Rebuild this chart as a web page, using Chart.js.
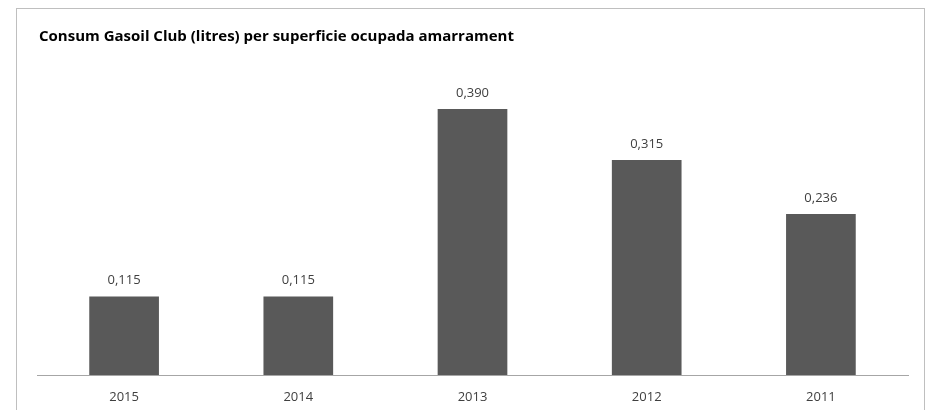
<!DOCTYPE html>
<html>
<head>
<meta charset="utf-8">
<script src="https://cdn.jsdelivr.net/npm/chart.js@4"></script>
<style>
  html, body { margin: 0; padding: 0; background: #ffffff; }
  #wrap { width: 928px; height: 410px; position: relative; }
</style>
</head>
<body>
<div id="wrap"><canvas id="gasoilChart" width="928" height="410"></canvas></div>
<script>
// Chart data
const years = ["2015", "2014", "2013", "2012", "2011"];
const consum = [0.115, 0.115, 0.390, 0.315, 0.236];
const chartTitle = "Consum Gasoil Club (litres) per superficie ocupada amarrament";

// Frame, title and value labels
const decorPlugin = {
  id: "decor",
  beforeDraw(chart) {
    const c = chart.ctx;
    c.save();
    c.fillStyle = "#ffffff";
    c.fillRect(0, 0, chart.width, chart.height);
    c.strokeStyle = "#bfbfbf";
    c.lineWidth = 1;
    c.strokeRect(16.5, 8.5, 908, 420);
    c.restore();
  },
  afterDatasetsDraw(chart) {
    const c = chart.ctx;
    c.save();
    c.font = "bold 15px 'Open Sans'";
    c.fillStyle = "#000000";
    c.textBaseline = "middle";
    c.textAlign = "left";
    c.fillText(chartTitle, 39, 37);

    c.font = "13px 'Open Sans'";
    c.fillStyle = "#404040";
    c.textAlign = "center";
    const meta = chart.getDatasetMeta(0);
    meta.data.forEach((bar, i) => {
      const txt = consum[i].toFixed(3).replace(".", ",");
      c.fillText(txt, bar.x, bar.y - 16);
    });
    c.restore();
  },
};

const ctx = document.getElementById("gasoilChart").getContext("2d");
new Chart(ctx, {
  type: "bar",
  data: {
    labels: years,
    datasets: [
      {
        data: consum,
        backgroundColor: "#595959",
        borderWidth: 0,
        categoryPercentage: 1.0,
        barPercentage: 0.4,
      },
    ],
  },
  options: {
    responsive: false,
    animation: false,
    layout: {
      padding: { left: 37, right: 20, top: 68, bottom: 0 },
    },
    plugins: {
      legend: { display: false },
      tooltip: { enabled: false },
    },
    scales: {
      x: {
        grid: { display: false },
        border: { color: "#a6a6a6", width: 1 },
        ticks: {
          color: "#404040",
          font: { family: "'Open Sans'", size: 13 },
          padding: 6,
        },
        afterFit(scale) {
          scale.height = 35;
        },
      },
      y: {
        display: false,
        min: 0,
        max: 0.45,
      },
    },
  },
  plugins: [decorPlugin],
});
</script>
</body>
</html>
